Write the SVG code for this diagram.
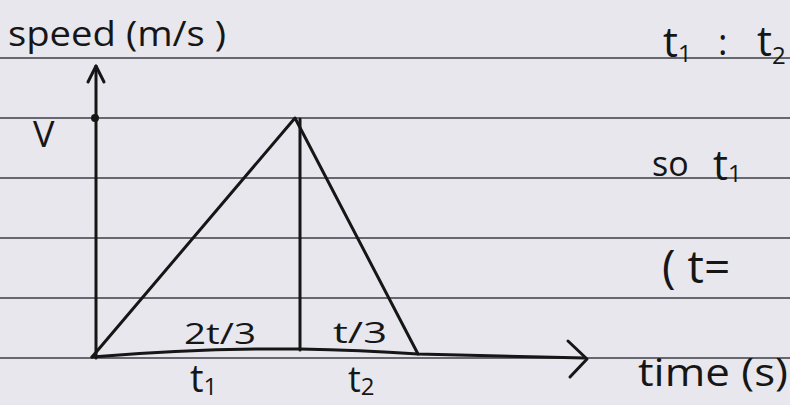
<svg xmlns="http://www.w3.org/2000/svg" width="790" height="405" viewBox="0 0 790 405">
<style>
.rule{stroke:#3c3c44;stroke-width:1.6}
.ink{stroke:#161616;stroke-width:3;fill:none;stroke-linecap:round;stroke-linejoin:round}
text{font-family:"Open Sans","Liberation Sans",sans-serif;fill:#161616}
.sub{font-size:24px}
</style>
<rect width="790" height="405" fill="#e7e7ed"/>
<g id="paper-lines">
<line class="rule" x1="0" y1="58" x2="790" y2="58"/>
<line class="rule" x1="0" y1="118" x2="790" y2="118"/>
<line class="rule" x1="0" y1="178" x2="790" y2="178"/>
<line class="rule" x1="0" y1="238" x2="790" y2="238"/>
<line class="rule" x1="0" y1="298" x2="790" y2="298"/>
<line class="rule" x1="0" y1="358" x2="790" y2="358"/>
</g>
<g id="axes">
<path class="ink" d="M96 358 L96 66"/>
<path class="ink" d="M88 82 L96 66 L104 82"/>
<circle cx="95" cy="118" r="4" fill="#161616"/>
<path class="ink" d="M92 357 Q200 348 300 349 Q360 350 418 354 L585 358"/>
<path class="ink" d="M568 341 L587 359 L570 377"/>
</g>
<g id="graph">
<path class="ink" d="M92 357 L295 118 L418 354"/>
<path class="ink" d="M300 119 L300 350"/>
</g>
<g id="labels">
<text x="8" y="46" font-size="34" textLength="218" lengthAdjust="spacingAndGlyphs">speed (m/s )</text>
<text x="33" y="147" font-size="36">V</text>
<text x="184" y="344" font-size="30" textLength="72" lengthAdjust="spacingAndGlyphs">2t/3</text>
<text x="333" y="343" font-size="30" textLength="54" lengthAdjust="spacingAndGlyphs">t/3</text>
<text x="190" y="392" font-size="38">t<tspan class="sub" dy="3">1</tspan></text>
<text x="348" y="392" font-size="36">t<tspan class="sub" dy="3">2</tspan></text>
<text x="638" y="386" font-size="38" textLength="150" lengthAdjust="spacingAndGlyphs">time (s)</text>
<text x="663" y="57" font-size="42">t<tspan class="sub" dy="5">1</tspan></text>
<text x="718" y="55" font-size="36">:</text>
<text x="757" y="56" font-size="42">t<tspan class="sub" dy="8">2</tspan></text>
<text x="652" y="176" font-size="34">so</text>
<text x="713" y="180" font-size="42">t<tspan class="sub" dy="2">1</tspan></text>
<text x="662" y="283" font-size="46">( t=</text>
</g>
</svg>
